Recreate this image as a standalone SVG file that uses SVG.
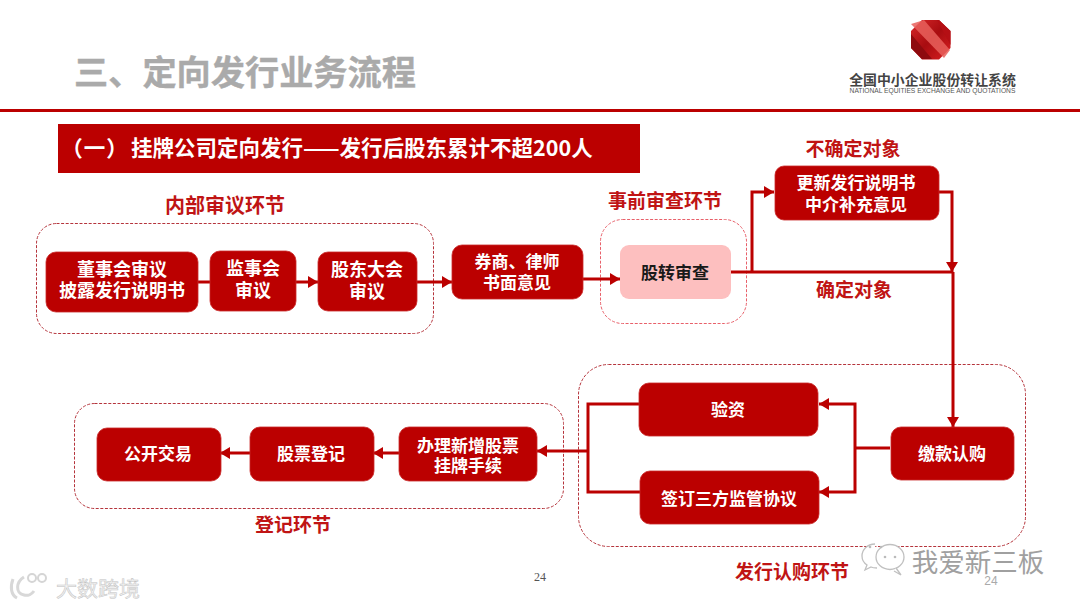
<svg xmlns="http://www.w3.org/2000/svg" width="1080" height="608" viewBox="0 0 1080 608">
<style>
text{font-family:"Noto Sans CJK SC","Liberation Sans",sans-serif;font-weight:700;text-anchor:middle}
.b{fill:#bb0000;stroke:#c92a2a;stroke-width:.8}
.w{fill:#fff;font-size:17px}
.x{fill:#fff;font-size:18px}
.l{fill:#c01414;font-size:19px}
.d{fill:none;stroke:#b5343c;stroke-width:1;stroke-dasharray:3 1.6}
.c{fill:none;stroke:#bb0000;stroke-width:3}
.n{font-family:"Liberation Serif",serif;font-weight:400;font-size:12px;fill:#555}
.m{font-weight:400;fill:#f2f2f2;stroke:#c4c4c4;stroke-width:.5}
</style>
<defs>
<marker id="a" markerUnits="userSpaceOnUse" markerWidth="12" markerHeight="14" refX="10" refY="6" orient="auto"><path d="M0 0L10 6L0 12Z" fill="#bb0000"/></marker>
<linearGradient id="g" x1="0" y1="0" x2="1" y2="1"><stop offset="0" stop-color="#d8282a"/><stop offset=".5" stop-color="#a80c10"/><stop offset="1" stop-color="#d81f22"/></linearGradient>
</defs>
<rect width="1080" height="608" fill="#fff"/>
<g id="header">
<text x="245" y="85" style="font-size:34.2px;fill:#aaaaaa;stroke:#aaaaaa;stroke-width:.4">三、定向发行业务流程</text>
<path d="M922 20h17l11.500 11v17l-11.500 11.500h-17l-11-11.500v-17z" fill="url(#g)"/>
<path d="M924 20l26 30-6 8-33-34z" fill="#e8605c" opacity=".85"/>
<path d="M911 34l21 25h-10l-11-11z" fill="#8e0a0e"/>
<path d="M937 20h2l11.500 11v14z" fill="#b50f14"/>
<text x="932.500" y="85" style="font-size:13.900px;fill:#444">全国中小企业股份转让系统</text>
<text x="932.500" y="93" style="font-size:6.700px;fill:#555;font-family:'Liberation Sans',sans-serif;font-weight:400">NATIONAL EQUITIES EXCHANGE AND QUOTATIONS</text>
<rect y="109" width="1080" height="3" fill="#bb0000"/>
<rect x="58" y="124" width="582" height="49" fill="#bb0000"/>
<text x="95" y="156" style="font-size:21.500px;fill:#fff;letter-spacing:1px">（一）</text>
<text x="131" y="156" style="font-size:21.500px;fill:#fff;text-anchor:start">挂牌公司定向发行——发行后股东累计不超200人</text>
</g>
<g id="groups">
<rect class="d" x="36.500" y="223.500" width="397" height="110" rx="20"/>
<rect class="d" x="600.500" y="219.500" width="146" height="104" rx="22" style="stroke:#e8606a"/>
<rect class="d" x="578.500" y="364.500" width="447" height="182" rx="30"/>
<rect class="d" x="74.500" y="403.500" width="489" height="105" rx="20"/>
</g>
<g id="connectors">
<path class="c" d="M198 282H210"/>
<path class="c" marker-end="url(#a)" d="M296 282H318"/>
<path class="c" marker-end="url(#a)" d="M417 282H452"/>
<path class="c" marker-end="url(#a)" d="M583 279H620"/>
<path class="c" d="M731 272H953"/>
<path class="c" marker-end="url(#a)" d="M752 272V192H774"/>
<path class="c" marker-end="url(#a)" d="M938 192H952V272"/>
<path class="c" marker-end="url(#a)" d="M953 272V427"/>
<path class="c" d="M890 448H855"/>
<path class="c" marker-end="url(#a)" d="M855 448V404H819"/>
<path class="c" marker-end="url(#a)" d="M855 448V492H819"/>
<path class="c" d="M639 404H588V492H640"/>
<path class="c" marker-end="url(#a)" d="M588 451H537"/>
<path class="c" marker-end="url(#a)" d="M399 453H373"/>
<path class="c" marker-end="url(#a)" d="M250 453H220"/>
</g>
<g id="n1"><rect class="b" x="46" y="252" width="152" height="60" rx="10"/><text class="x" x="122" y="276">董事会审议</text><text class="x" x="122" y="297">披露发行说明书</text></g>
<g id="n2"><rect class="b" x="210" y="251" width="86" height="60" rx="10"/><text class="x" x="253" y="275">监事会</text><text class="x" x="253" y="297">审议</text></g>
<g id="n3"><rect class="b" x="318" y="252" width="99" height="59" rx="10"/><text class="x" x="367" y="276">股东大会</text><text class="x" x="367" y="298">审议</text></g>
<g id="n4"><rect class="b" x="452" y="245" width="131" height="54" rx="10"/><text class="w" x="517" y="268">券商、律师</text><text class="w" x="517" y="289">书面意见</text></g>
<g id="n5"><rect x="620" y="245" width="111" height="54" rx="9" fill="#fdbfbf"/><text x="675" y="279" style="font-size:17px;fill:#1a1a1a">股转审查</text></g>
<g id="n6"><rect class="b" x="775" y="166" width="164" height="54" rx="9"/><text class="w" x="856" y="189">更新发行说明书</text><text class="w" x="856" y="211">中介补充意见</text></g>
<g id="n7"><rect class="b" x="891" y="427" width="123" height="53" rx="10"/><text class="w" x="952" y="460">缴款认购</text></g>
<g id="n8"><rect class="b" x="639" y="383" width="179" height="53" rx="10"/><text class="w" x="728" y="416">验资</text></g>
<g id="n9"><rect class="b" x="640" y="471" width="179" height="53" rx="10"/><text class="w" x="729" y="505">签订三方监管协议</text></g>
<g id="n10"><rect class="b" x="399" y="427" width="138" height="54" rx="10"/><text class="w" x="468" y="452">办理新增股票</text><text class="w" x="468" y="472">挂牌手续</text></g>
<g id="n11"><rect class="b" x="250" y="427" width="124" height="54" rx="10"/><text class="w" x="311" y="460">股票登记</text></g>
<g id="n12"><rect class="b" x="97" y="428" width="124" height="53" rx="10"/><text class="w" x="158" y="460">公开交易</text></g>
<g id="labels">
<text class="l" x="225" y="213" style="font-size:20px">内部审议环节</text>
<text class="l" x="665" y="208">事前审查环节</text>
<text class="l" x="853" y="156">不确定对象</text>
<text class="l" x="854" y="297">确定对象</text>
<text class="l" x="293" y="532">登记环节</text>
<text class="l" x="792" y="579">发行认购环节</text>
<text class="n" x="540" y="581">24</text>
<text class="n" x="991" y="585" style="fill:#aaa;font-family:'Liberation Sans',sans-serif">24</text>
</g>
<g id="watermarks">
<path d="M875 544c-8 0-13 6-13 12 0 4 2 7 5 9l-2 5 6-3c2 1 4 1 6 1" fill="#fff" stroke="#c0c0c0" stroke-width="1.300"/>
<ellipse cx="890" cy="557" rx="14" ry="12.500" fill="#fff" stroke="#c0c0c0" stroke-width="1.300"/>
<path d="M896 568l5 7-7-4" fill="#fff" stroke="#c0c0c0" stroke-width="1.300"/>
<circle cx="885" cy="557" r="1.300" fill="#bbb"/><circle cx="895" cy="557" r="1.300" fill="#bbb"/>
<circle cx="870" cy="547" r="1.300" fill="#bbb"/><circle cx="881" cy="547" r="1.300" fill="#bbb"/>
<text x="978" y="572" style="font-size:26.500px;font-weight:400;fill:#a0a0a0">我爱新三板</text>
<text class="m" x="98" y="596" style="font-size:21px">大数跨境</text>
<path d="M13 579c-3 8-2 16 4 19M24 577c-8 5-9 16 0 18 4 1 8-1 10-4" fill="none" stroke="#d8d8d8" stroke-width="3"/>
<circle cx="32" cy="578" r="4" fill="none" stroke="#d5d5d5" stroke-width="2"/>
<circle cx="42" cy="578" r="4" fill="none" stroke="#d5d5d5" stroke-width="2"/>
</g>
</svg>
